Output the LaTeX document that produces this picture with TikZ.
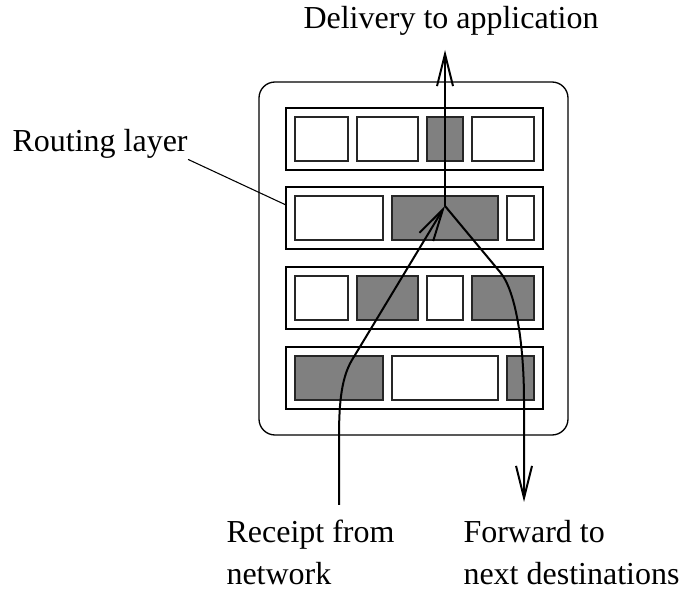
\documentclass[tikz,border=0pt]{standalone}
\usepackage{fontspec}
\setmainfont{Liberation Serif}
\usetikzlibrary{arrows.meta}
\tikzset{
  cellw/.style={draw=black!85, line width=0.5pt, fill=white},
  celld/.style={cellw, fill=gray},
  flow/.style={line width=0.75pt, -{Straight Barb[length=12pt,width=6pt]}},
  lbl/.style={font=\fontsize{12}{16}\selectfont, inner sep=0pt, align=left},
}
\begin{document}
\begin{tikzpicture}[x=0.375pt, y=-0.375pt]
\useasboundingbox (0,0) rectangle (680,592);
% Knooppunt
\draw[line width=0.5pt, rounded corners=6pt] (259,82) rectangle (568,435);
% Lagen met cellen
\foreach \t/\cells [count=\i] in {108/{295/348/w,357/418/w,427/463/d,472/534/w},
    187/{295/383/w,392/498/d,507/534/w},
    267/{295/348/w,357/418/d,427/463/w,472/534/d},
    347/{295/383/d,392/498/w,507/534/d}}{
  \draw[line width=0.5pt] (286,\t) rectangle (543,\t+62);
  \coordinate (laag\i) at (286,\t+18);
  \foreach \a/\b/\c in \cells
    \draw[cell\c] (\a,\t+9) rectangle (\b,\t+53);
}
% Teksten
\node[lbl, anchor=base west] (bezorg) at (303,29) {Delivery to application};
\node[lbl, anchor=base west] (routing) at (12,152) {Routing layer};
\node[lbl, anchor=base west] (ontvang) at (226,585) {Receipt from\\network};
\node[lbl, anchor=base west] (doorstuur) at (463,585) {Forward to\\next destinations};
% Pijlen
\coordinate (knoop) at (445,206);
\coordinate (bron) at (339,505);
\coordinate (boven) at (445,50);
\coordinate (onder) at (524,502);
\draw[flow] (knoop) -- (boven);
\draw[flow] (bron) -- (339,440) .. controls (339,410) and (340,380) .. (352,360) -- (knoop);
\draw[flow] (knoop) -- (500,272) .. controls (517,292) and (524,350) .. (524,400) -- (onder);
\draw[line width=0.4pt] (routing.south east) -- (laag2);
\end{tikzpicture}
\end{document}
